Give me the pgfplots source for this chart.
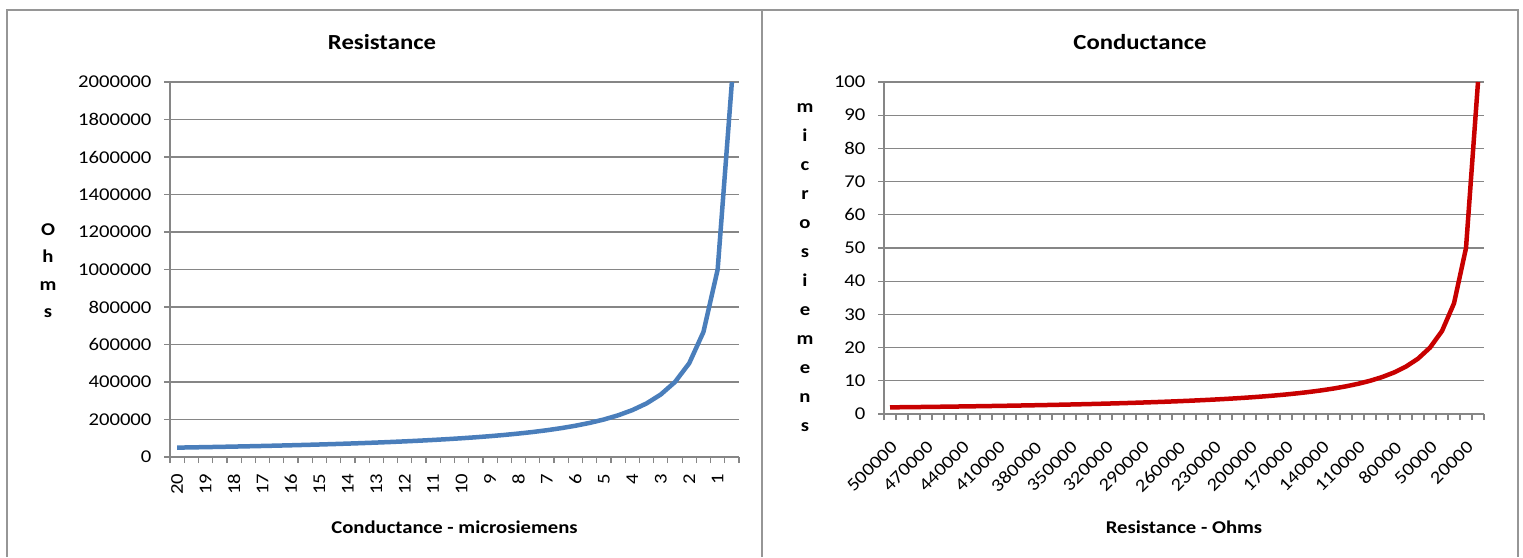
\documentclass[border=0pt]{standalone}
\usepackage{fontspec}
\setmainfont[FakeStretch=1.15]{Carlito}
\usepackage{pgfplots}
\pgfplotsset{compat=1.18}
\definecolor{gridgray}{RGB}{134,134,134}
\definecolor{borderg}{RGB}{150,150,150}
\definecolor{resblue}{RGB}{74,126,187}
\definecolor{condred}{RGB}{200,0,0}
\pgfplotsset{
  excel/.style={
    scale only axis,
    axis x line*=bottom,
    axis y line*=left,
    ymajorgrids,
    grid style={gridgray, line width=1.2pt},
    axis line style={gridgray, line width=1.4pt},
    tick style={gridgray, line width=1.2pt},
    tick align=outside,
    major tick length=6pt,
    minor tick length=6pt,
    major x tick style={draw=none},
    tick label style={font=\fontsize{18}{20}\selectfont, text=black},
    /pgf/number format/assume math mode=true,
    scaled y ticks=false,
    yticklabel style={xshift=-9pt, /pgf/number format/fixed, /pgf/number format/precision=0, /pgf/number format/1000 sep={}},
    clip=false,
  }
}
\begin{document}
\begin{tikzpicture}[x=1pt,y=1pt]
\useasboundingbox (0,0) rectangle (1523,557);
\fill[white] (0,0) rectangle (1523,557);
\draw[borderg, line width=1.5pt] (7,0) -- (7,547) -- (1518,547) -- (1518,0);
\draw[borderg, line width=2.5pt] (762,0) -- (762,547);

\begin{axis}[excel, at={(170pt,100pt)}, anchor=south west,
  width=569pt, height=375pt,
  xmin=-0.5, xmax=39.5, ymin=0, ymax=2000000,
  ytick={0,200000,400000,600000,800000,1000000,1200000,1400000,1600000,1800000,2000000},
  xtick={0,2,4,6,8,10,12,14,16,18,20,22,24,26,28,30,32,34,36,38},
  xticklabels={20,19,18,17,16,15,14,13,12,11,10,9,8,7,6,5,4,3,2,1},
  minor xtick={-0.5,0.5,...,39.5},
  xticklabel shift=7pt,
  xticklabel style={rotate=90, anchor=east},
]
\addplot[resblue, line width=4.5pt, line join=round] coordinates {
(0,50000) (1,51282) (2,52632) (3,54054) (4,55556) (5,57143) (6,58824) (7,60606)
(8,62500) (9,64516) (10,66667) (11,68966) (12,71429) (13,74074) (14,76923)
(15,80000) (16,83333) (17,86957) (18,90909) (19,95238) (20,100000) (21,105263)
(22,111111) (23,117647) (24,125000) (25,133333) (26,142857) (27,153846)
(28,166667) (29,181818) (30,200000) (31,222222) (32,250000) (33,285714)
(34,333333) (35,400000) (36,500000) (37,666667) (38,1000000) (39,2000000)
};
\end{axis}

\begin{axis}[excel, at={(884pt,143pt)}, anchor=south west,
  width=600pt, height=332pt,
  xmin=-0.5, xmax=49.5, ymin=0, ymax=100,
  ytick={0,10,20,30,40,50,60,70,80,90,100},
  xtick={0,3,6,9,12,15,18,21,24,27,30,33,36,39,42,45,48},
  xticklabels={500000,470000,440000,410000,380000,350000,320000,290000,260000,230000,200000,170000,140000,110000,80000,50000,20000},
  minor xtick={-0.5,0.5,...,49.5},
  xticklabel shift=15pt,
  xticklabel style={xshift=0pt, rotate=45, anchor=north east},
]
\addplot[condred, line width=4.5pt, line join=round] coordinates {
(0,2) (1,2.0408) (2,2.0833) (3,2.1277) (4,2.1739) (5,2.2222) (6,2.2727)
(7,2.3256) (8,2.3810) (9,2.4390) (10,2.5) (11,2.5641) (12,2.6316) (13,2.7027)
(14,2.7778) (15,2.8571) (16,2.9412) (17,3.0303) (18,3.125) (19,3.2258)
(20,3.3333) (21,3.4483) (22,3.5714) (23,3.7037) (24,3.8462) (25,4)
(26,4.1667) (27,4.3478) (28,4.5455) (29,4.7619) (30,5) (31,5.2632)
(32,5.5556) (33,5.8824) (34,6.25) (35,6.6667) (36,7.1429) (37,7.6923)
(38,8.3333) (39,9.0909) (40,10) (41,11.1111) (42,12.5) (43,14.2857)
(44,16.6667) (45,20) (46,25) (47,33.3333) (48,50) (49,100)
};
\end{axis}

\node[font=\bfseries\fontsize{21.5}{24}\selectfont] at (382,515) {Resistance};
\node[font=\bfseries\fontsize{21.5}{24}\selectfont] at (1140,515) {Conductance};
\node[font=\bfseries\fontsize{18}{20}\selectfont] at (454.5,30) {Conductance - microsiemens};
\node[font=\bfseries\fontsize{18}{20}\selectfont] at (1184,30) {Resistance - Ohms};
\node[font=\bfseries\fontsize{18}{27.5}\selectfont, align=center] at (48,286.5) {O\\h\\m\\s};
\node[font=\bfseries\fontsize{18}{29}\selectfont, align=center] at (805,289.5) {m\\i\\c\\r\\o\\s\\i\\e\\m\\e\\n\\s};
\end{tikzpicture}
\end{document}
